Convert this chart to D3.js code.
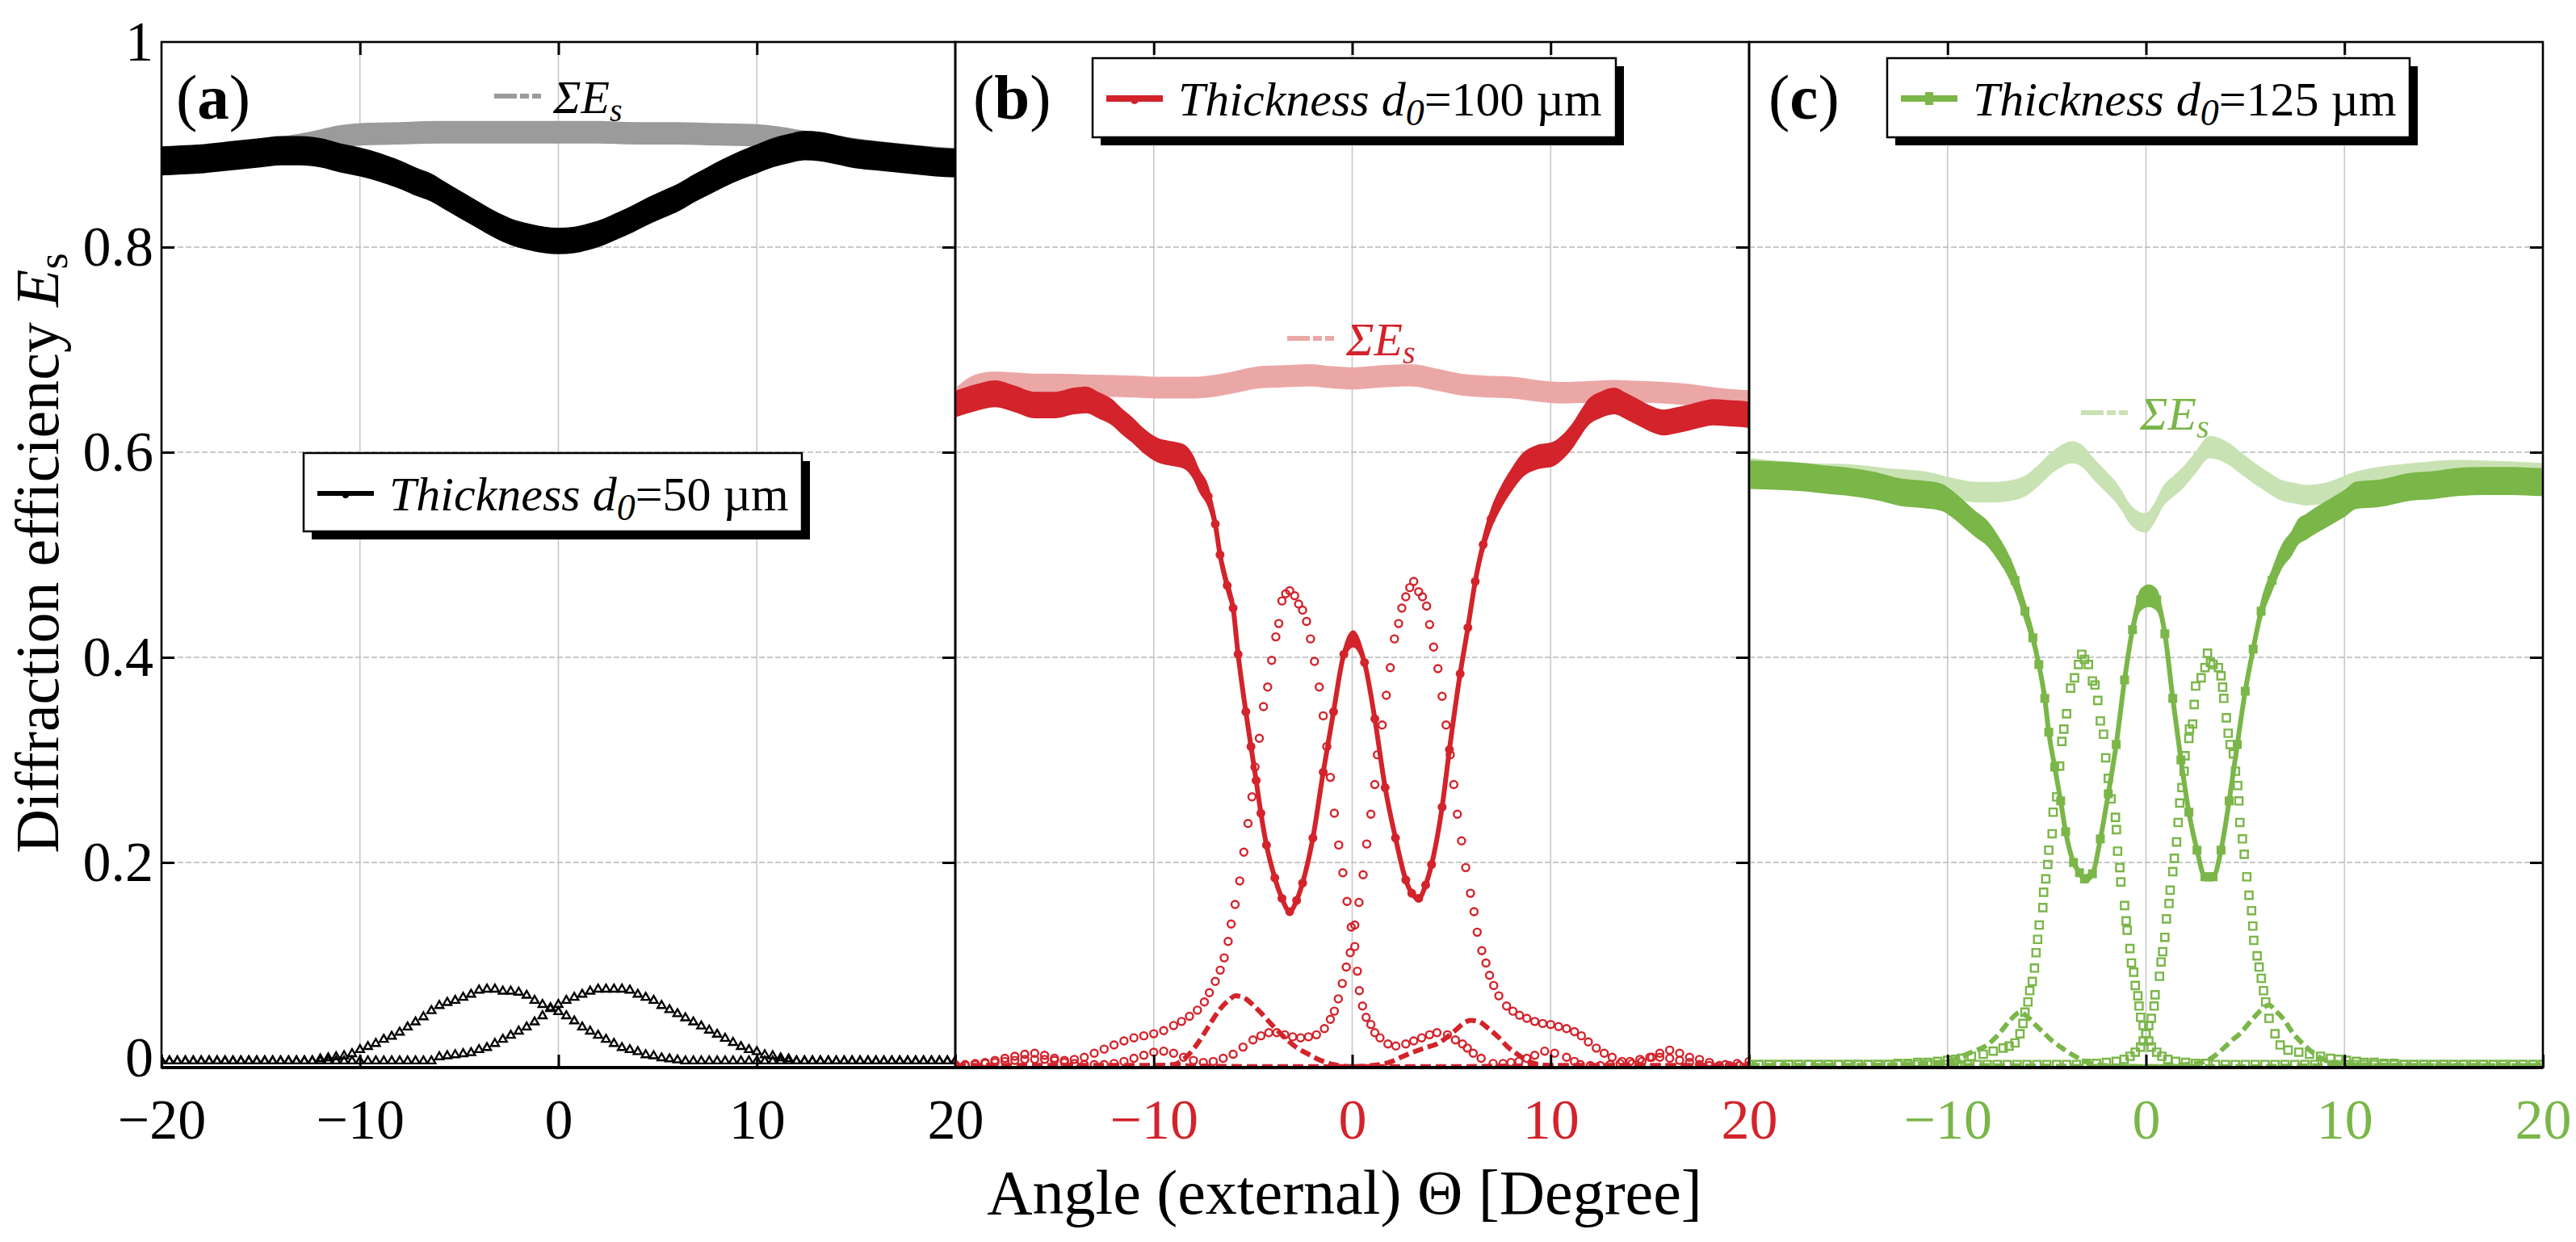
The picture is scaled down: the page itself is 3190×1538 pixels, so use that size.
<!DOCTYPE html>
<html><head><meta charset="utf-8">
<script src="https://cdn.jsdelivr.net/npm/d3@7"></script>
<style>
html,body{margin:0;padding:0;background:#fff;}
svg{display:block;font-family:"Liberation Serif","DejaVu Serif",serif;}
</style>
</head><body>
<svg id="chart" width="3190" height="1538"></svg>
<script>
// ---------------- DATA (angle in degrees, diffraction efficiency) ----------------
const yTickVals = [0, 0.2, 0.4, 0.6, 0.8, 1];
const yTickLabels = ['0', '0.2', '0.4', '0.6', '0.8', '1'];
const xTicksA = [-20, -10, 0, 10, 20];
const xTicksB = [-10, 0, 10, 20];
const xTicksC = [-10, 0, 10, 20];
const legendLabels = ['50', '100', '125'];

// Panel (a) d0 = 50 um
const aMain = [[-20,0.884],[-19,0.885],[-18,0.886],[-17,0.888],[-16,0.890],[-15,0.892],[-14,0.894],[-13,0.894],[-12,0.892],[-11,0.887],[-10,0.883],[-9.4,0.880],[-8.6,0.875],[-7.9,0.870],[-7.2,0.864],[-6.4,0.858],[-5.7,0.850],[-5,0.842],[-4.1,0.832],[-3.2,0.822],[-2.4,0.815],[-1.5,0.810],[-0.7,0.807],[0,0.806],[0.8,0.807],[1.5,0.810],[2.3,0.815],[3,0.821],[3.8,0.828],[4.5,0.835],[5.3,0.842],[6.1,0.849],[6.8,0.857],[7.5,0.864],[8.3,0.872],[9.2,0.880],[10,0.886],[10.8,0.892],[11.6,0.896],[12.4,0.899],[13.2,0.898],[14,0.895],[15,0.891],[16,0.889],[17,0.887],[18,0.885],[19,0.883],[20,0.882]];
const aSum = [[-20,0.887],[-18,0.889],[-16,0.893],[-14,0.897],[-13,0.900],[-12,0.904],[-11,0.908],[-10,0.910],[-8,0.911],[-6,0.912],[-4,0.912],[-2,0.912],[0,0.912],[2,0.912],[4,0.911],[6,0.911],[8,0.910],[10,0.909],[11,0.907],[12,0.904],[13,0.901],[14,0.898],[16,0.893],[18,0.889],[20,0.886]];
const triAngles = [-20,-19.6,-19.2,-18.8,-18.4,-18,-17.6,-17.2,-16.8,-16.4,-16,-15.6,-15.2,-14.8,-14.4,-14,-13.6,-13.2,-12.8,-12.4,-12,-11.6,-11.2,-10.8,-10.4,-10,-9.6,-9.2,-8.8,-8.4,-8,-7.6,-7.2,-6.8,-6.4,-6,-5.6,-5.2,-4.8,-4.4,-4,-3.6,-3.2,-2.8,-2.4,-2,-1.6,-1.2,-0.8,-0.4,0,0.4,0.8,1.2,1.6,2,2.4,2.8,3.2,3.6,4,4.4,4.8,5.2,5.6,6,6.4,6.8,7.2,7.6,8,8.4,8.8,9.2,9.6,10,10.4,10.8,11.2,11.6,12,12.4,12.8,13.2,13.6,14,14.4,14.8,15.2,15.6,16,16.4,16.8,17.2,17.6,18,18.4,18.8,19.2,19.6,20];
const aTri1 = [0.004,0.004,0.004,0.004,0.004,0.004,0.004,0.004,0.004,0.004,0.004,0.004,0.004,0.004,0.004,0.004,0.004,0.004,0.004,0.004,
  0.006,0.007,0.008,0.009,0.011,0.015,0.018,0.021,0.025,0.028,0.032,0.037,0.042,0.047,0.053,0.058,0.061,0.063,0.066,0.069,0.073,0.074,0.074,0.072,0.072,0.071,0.068,0.063,0.059,0.056,0.052,0.048,0.043,0.037,0.033,0.029,0.025,0.021,0.017,0.015,0.013,0.010,0.009,0.007,0.006,0.005,
  0.004,0.004,0.004,0.004,0.004,0.004,0.004,0.004,0.004,0.004,0.004,0.004,0.004,0.004,0.004,0.004,0.004,0.004,0.004,0.004,0.004,0.004,0.004,0.004,0.004,0.004,0.004,0.004,0.004,0.004,0.004,0.004,0.004,0.004,0.004];
const aTri2 = [0.004,0.004,0.004,0.004,0.004,0.004,0.004,0.004,0.004,0.004,0.004,0.004,0.004,0.004,0.004,0.004,0.004,0.004,0.004,0.004,0.004,0.004,0.004,0.004,0.004,0.004,0.004,0.004,0.004,0.004,0.004,0.004,0.004,0.004,0.004,
  0.008,0.009,0.010,0.011,0.012,0.015,0.017,0.021,0.025,0.029,0.033,0.037,0.042,0.048,0.055,0.059,0.063,0.066,0.069,0.072,0.074,0.074,0.074,0.074,0.073,0.069,0.066,0.063,0.058,0.054,0.050,0.046,0.042,0.038,0.034,0.030,0.026,0.022,0.018,0.015,0.013,0.010,0.009,0.007,0.006,
  0.004,0.004,0.004,0.004,0.004,0.004,0.004,0.004,0.004,0.004,0.004,0.004,0.004,0.004,0.004,0.004,0.004,0.004,0.004,0.004,0.004];

// Panel (b) d0 = 100 um
const bMain = [[-20,0.647],[-19,0.653],[-18,0.657],[-17,0.652],[-16,0.646],[-15,0.646],[-14,0.650],[-13.4,0.651],[-12.8,0.646],[-12.1,0.639],[-11.6,0.630],[-11.1,0.622],[-10.5,0.611],[-9.8,0.602],[-9.2,0.599],[-8.5,0.596],[-8,0.585],[-7.7,0.572],[-7.26,0.557],[-6.9,0.530],[-6.66,0.500],[-6.3,0.470],[-6.0,0.448],[-5.75,0.403],[-5.36,0.347],[-5.1,0.313],[-4.84,0.280],[-4.6,0.248],[-4.32,0.217],[-3.9,0.185],[-3.54,0.165],[-3.15,0.152],[-2.8,0.163],[-2.5,0.180],[-1.98,0.224],[-1.46,0.288],[-0.94,0.347],[-0.42,0.403],[0.05,0.418],[0.62,0.395],[1.14,0.340],[1.66,0.273],[2.18,0.224],[2.7,0.183],[3.0,0.170],[3.35,0.165],[3.7,0.178],[4.0,0.198],[4.53,0.254],[4.9,0.310],[5.44,0.384],[5.83,0.429],[6.2,0.474],[6.6,0.510],[7.0,0.535],[7.5,0.556],[8.0,0.572],[8.57,0.587],[9.3,0.595],[10.1,0.598],[10.6,0.605],[11.1,0.616],[11.5,0.628],[11.9,0.639],[12.5,0.646],[13.2,0.650],[13.8,0.645],[14.4,0.639],[15.0,0.633],[15.7,0.629],[16.3,0.631],[17,0.634],[17.6,0.637],[18.2,0.639],[19,0.638],[19.8,0.637],[20,0.636]];
const bSum = [[-20,0.652],[-19,0.665],[-18,0.668],[-17,0.667],[-16,0.666],[-14.9,0.666],[-13,0.665],[-11,0.664],[-9.8,0.663],[-8,0.663],[-7.26,0.664],[-6,0.668],[-4.7,0.673],[-3.5,0.674],[-2.15,0.675],[-1,0.673],[0,0.672],[1.5,0.674],[2.95,0.675],[4.2,0.671],[5.5,0.666],[6.8,0.664],[8.07,0.663],[9.3,0.660],[10.6,0.658],[12,0.659],[13.2,0.660],[14.5,0.659],[15.7,0.658],[17,0.656],[18.2,0.653],[19.2,0.651],[20,0.650]];
const bOrd1 = [[-20,0.003],[-19.5,0.003],[-19,0.004],[-18.5,0.005],[-18,0.007],[-17.5,0.009],[-17,0.011],[-16.5,0.013],[-16,0.014],[-15.5,0.012],[-15,0.009],[-14.5,0.007],[-14,0.008],[-13.5,0.010],[-13,0.014],[-12.5,0.018],[-12,0.022],[-11.5,0.026],[-11,0.029],[-10.5,0.031],[-10,0.033],[-9.5,0.036],[-9,0.041],[-8.6,0.045],[-8.2,0.050],[-7.8,0.056],[-7.45,0.064],[-7.2,0.073],[-6.9,0.084],[-6.65,0.095],[-6.45,0.107],[-6.25,0.123],[-6.1,0.140],[-5.9,0.159],[-5.67,0.182],[-5.46,0.210],[-5.25,0.238],[-5.05,0.264],[-4.9,0.293],[-4.68,0.321],[-4.47,0.352],[-4.26,0.371],[-4.06,0.397],[-3.85,0.420],[-3.7,0.433],[-3.54,0.455],[-3.35,0.462],[-3.15,0.465],[-2.9,0.460],[-2.7,0.452],[-2.5,0.446],[-2.3,0.435],[-2.1,0.418],[-1.9,0.396],[-1.66,0.371],[-1.46,0.343],[-1.28,0.313],[-1.1,0.283],[-0.9,0.248],[-0.68,0.217],[-0.47,0.190],[-0.26,0.162],[-0.05,0.137],[0.13,0.118],[0.26,0.094],[0.36,0.075],[0.52,0.060],[0.7,0.049],[0.94,0.042],[1.14,0.034],[1.4,0.029],[1.8,0.023],[2.2,0.021],[2.7,0.023],[3.1,0.026],[3.5,0.029],[3.9,0.032],[4.27,0.034],[4.8,0.032],[5.2,0.027],[5.56,0.023],[5.8,0.019],[6.1,0.014],[6.5,0.009],[7.1,0.004],[7.6,0.004],[8.0,0.005],[8.4,0.006],[8.8,0.009],[9.2,0.012],[9.7,0.016],[10.2,0.014],[10.8,0.010],[11.2,0.006],[11.5,0.003],[12,0.002],[12.5,0.002],[13,0.003],[13.5,0.004],[14,0.006],[14.5,0.008],[15,0.010],[15.5,0.010],[16,0.009],[16.5,0.007],[17,0.005],[17.5,0.003],[18,0.002],[18.5,0.002],[19,0.002],[19.5,0.002],[20,0.002]];
const bOrd2 = [[-20,0.002],[-19.5,0.002],[-19,0.003],[-18.5,0.004],[-18,0.005],[-17.5,0.006],[-17,0.007],[-16.5,0.008],[-16,0.008],[-15.5,0.008],[-15,0.007],[-14.5,0.005],[-14,0.004],[-13.5,0.003],[-13,0.003],[-12.5,0.003],[-12,0.004],[-11.5,0.006],[-11,0.009],[-10.5,0.012],[-10,0.015],[-9.5,0.016],[-9,0.014],[-8.5,0.010],[-8,0.007],[-7.5,0.005],[-7,0.006],[-6.5,0.009],[-6,0.013],[-5.5,0.020],[-5,0.027],[-4.6,0.031],[-4.2,0.034],[-3.8,0.034],[-3.4,0.032],[-3.0,0.030],[-2.6,0.029],[-2.2,0.030],[-1.8,0.032],[-1.4,0.038],[-1.1,0.047],[-0.9,0.055],[-0.7,0.067],[-0.5,0.082],[-0.3,0.098],[-0.1,0.112],[0.13,0.139],[0.34,0.161],[0.55,0.188],[0.73,0.218],[0.94,0.247],[1.14,0.276],[1.27,0.305],[1.51,0.334],[1.72,0.363],[1.92,0.390],[2.13,0.418],[2.34,0.433],[2.5,0.448],[2.7,0.459],[2.9,0.468],[3.1,0.474],[3.35,0.464],[3.54,0.459],[3.75,0.450],[3.9,0.432],[4.1,0.410],[4.32,0.389],[4.53,0.362],[4.73,0.334],[4.94,0.305],[5.12,0.276],[5.3,0.247],[5.51,0.221],[5.72,0.195],[5.96,0.170],[6.14,0.152],[6.3,0.132],[6.53,0.114],[6.74,0.102],[6.92,0.090],[7.13,0.080],[7.39,0.070],[7.78,0.060],[8.1,0.055],[8.43,0.051],[8.8,0.048],[9.2,0.045],[9.6,0.043],[10.0,0.042],[10.4,0.040],[10.8,0.038],[11.2,0.035],[11.55,0.031],[11.9,0.025],[12.3,0.019],[12.7,0.014],[13.1,0.010],[13.6,0.006],[14.1,0.004],[14.6,0.006],[15.1,0.010],[15.5,0.014],[16.0,0.017],[16.5,0.014],[17.0,0.010],[17.5,0.008],[18.0,0.005],[18.8,0.003],[19.4,0.004],[20,0.006]];
const bDash1 = [[-20,0.002],[-16,0.002],[-12,0.002],[-10,0.002],[-9,0.003],[-8.5,0.008],[-7.96,0.019],[-7.5,0.032],[-7.18,0.042],[-6.66,0.057],[-6.2,0.066],[-5.88,0.070],[-5.6,0.069],[-5.36,0.067],[-5.0,0.061],[-4.58,0.053],[-4.06,0.042],[-3.6,0.033],[-3.28,0.027],[-2.9,0.021],[-2.5,0.016],[-2.1,0.012],[-1.72,0.008],[-1.3,0.005],[-0.94,0.003],[0,0.001],[5,0.001],[10,0.002],[15,0.002],[20,0.002]];
const bDash2 = [[-20,0.002],[-10,0.002],[-5,0.001],[0,0.001],[1.4,0.003],[2.0,0.006],[2.45,0.010],[3.2,0.016],[3.8,0.020],[4.27,0.023],[4.8,0.030],[5.3,0.038],[5.6,0.043],[5.96,0.046],[6.35,0.045],[6.87,0.038],[7.4,0.029],[7.9,0.019],[8.4,0.012],[8.8,0.007],[9.2,0.004],[10,0.002],[15,0.002],[20,0.002]];

// Panel (c) d0 = 125 um
const cMain = [[-20,0.578],[-18.5,0.577],[-17.45,0.576],[-16,0.573],[-14.9,0.571],[-13.6,0.567],[-12.35,0.561],[-11.3,0.559],[-10.3,0.556],[-9.8,0.550],[-9.3,0.542],[-8.6,0.530],[-8.0,0.521],[-7.4,0.505],[-7.0,0.492],[-6.6,0.475],[-6.1,0.445],[-5.7,0.419],[-5.4,0.393],[-5.1,0.360],[-4.9,0.327],[-4.6,0.293],[-4.3,0.260],[-4.05,0.230],[-3.65,0.200],[-3.35,0.190],[-3.1,0.184],[-2.7,0.189],[-2.3,0.223],[-1.9,0.267],[-1.5,0.315],[-1.08,0.378],[-0.68,0.427],[-0.27,0.456],[0.14,0.460],[0.54,0.456],[0.95,0.423],[1.35,0.360],[1.76,0.300],[2.16,0.249],[2.57,0.212],[2.97,0.186],[3.38,0.186],[3.78,0.212],[4.19,0.260],[4.6,0.315],[5.0,0.367],[5.4,0.408],[5.8,0.445],[6.35,0.475],[6.9,0.500],[7.3,0.510],[7.7,0.523],[8.05,0.527],[8.6,0.534],[9.3,0.542],[10.0,0.550],[10.6,0.558],[11.8,0.560],[13.2,0.566],[14.5,0.568],[15.7,0.571],[17,0.572],[18.5,0.572],[19.8,0.571],[20,0.571]];
const cSum = [[-20,0.584],[-18.5,0.581],[-17,0.579],[-15,0.578],[-13,0.574],[-11.1,0.571],[-9.8,0.565],[-8.5,0.561],[-7.6,0.561],[-6.7,0.563],[-6.0,0.568],[-5.5,0.576],[-4.6,0.592],[-3.7,0.600],[-3.2,0.596],[-2.65,0.584],[-2.1,0.573],[-1.6,0.563],[-1.2,0.552],[-0.9,0.542],[-0.4,0.533],[0,0.531],[0.4,0.540],[0.9,0.558],[1.4,0.567],[1.9,0.576],[2.5,0.590],[3.2,0.605],[3.7,0.603],[4.2,0.598],[4.8,0.589],[5.5,0.579],[6.2,0.570],[6.8,0.563],[7.5,0.560],[8.05,0.558],[9,0.560],[10.6,0.571],[12,0.576],[14,0.580],[15.7,0.582],[17.5,0.581],[19,0.580],[20,0.579]];
const cOrd1 = [[-20,0.003],[-19.5,0.003],[-19,0.003],[-18.5,0.003],[-18,0.003],[-17.5,0.003],[-17,0.003],[-16.5,0.003],[-16,0.003],[-15.5,0.003],[-15,0.003],[-14.5,0.003],[-14,0.003],[-13.5,0.003],[-13,0.003],[-12.5,0.004],[-12,0.004],[-11.5,0.005],[-11,0.005],[-10.5,0.006],[-10,0.007],[-9.6,0.008],[-9.3,0.009],[-8.8,0.011],[-8.2,0.013],[-7.7,0.016],[-7.2,0.019],[-6.9,0.021],[-6.6,0.024],[-6.35,0.033],[-6.2,0.043],[-6.1,0.054],[-5.95,0.064],[-5.86,0.075],[-5.73,0.084],[-5.62,0.097],[-5.54,0.112],[-5.46,0.125],[-5.38,0.139],[-5.2,0.156],[-5.16,0.171],[-5.05,0.184],[-4.95,0.198],[-4.9,0.212],[-4.73,0.228],[-4.68,0.249],[-4.5,0.264],[-4.35,0.294],[-4.24,0.318],[-4.14,0.330],[-4.0,0.345],[-3.8,0.370],[-3.6,0.380],[-3.4,0.393],[-3.24,0.403],[-3.1,0.398],[-2.9,0.393],[-2.7,0.377],[-2.57,0.373],[-2.43,0.358],[-2.3,0.338],[-2.14,0.325],[-2.03,0.302],[-1.9,0.282],[-1.76,0.262],[-1.54,0.244],[-1.49,0.232],[-1.43,0.211],[-1.32,0.195],[-1.27,0.181],[-1.08,0.158],[-1.0,0.143],[-0.95,0.134],[-0.81,0.116],[-0.73,0.102],[-0.62,0.093],[-0.54,0.080],[-0.41,0.070],[-0.35,0.060],[-0.27,0.049],[-0.14,0.041],[0,0.033],[0.14,0.026],[0.27,0.020],[0.54,0.015],[0.8,0.011],[1.1,0.008],[1.5,0.006],[2,0.005],[2.5,0.004],[3,0.004],[3.5,0.003],[4,0.003],[4.5,0.003],[5,0.003],[5.5,0.003],[6,0.003],[6.5,0.003],[7,0.003],[7.5,0.003],[8,0.003],[8.5,0.003],[9,0.003],[9.5,0.003],[10,0.003],[10.5,0.003],[11,0.003],[11.5,0.003],[12,0.003],[12.5,0.003],[13,0.003],[13.5,0.003],[14,0.003],[14.5,0.003],[15,0.003],[15.5,0.003],[16,0.003],[16.5,0.003],[17,0.003],[17.5,0.003],[18,0.003],[18.5,0.003],[19,0.003],[19.5,0.003],[20,0.003]];
const cOrd2 = [[-20,0.003],[-19.5,0.003],[-19,0.003],[-18.5,0.003],[-18,0.003],[-17.5,0.003],[-17,0.003],[-16.5,0.003],[-16,0.003],[-15.5,0.003],[-15,0.003],[-14.5,0.003],[-14,0.003],[-13.5,0.003],[-13,0.003],[-12.5,0.003],[-12,0.003],[-11.5,0.003],[-11,0.003],[-10.5,0.003],[-10,0.003],[-9.5,0.003],[-9,0.003],[-8.5,0.003],[-8,0.003],[-7.5,0.003],[-7,0.003],[-6.5,0.003],[-6,0.003],[-5.5,0.003],[-5,0.003],[-4.5,0.003],[-4,0.003],[-3.5,0.003],[-3,0.004],[-2.5,0.004],[-2,0.005],[-1.5,0.006],[-1.1,0.008],[-0.8,0.011],[-0.54,0.015],[-0.27,0.020],[-0.14,0.026],[0,0.033],[0.14,0.041],[0.27,0.048],[0.41,0.060],[0.46,0.071],[0.68,0.089],[0.76,0.103],[0.84,0.113],[0.95,0.127],[1.03,0.145],[1.16,0.160],[1.22,0.173],[1.35,0.191],[1.43,0.204],[1.54,0.220],[1.62,0.239],[1.7,0.258],[1.81,0.273],[1.92,0.289],[1.97,0.304],[2.16,0.321],[2.19,0.330],[2.35,0.335],[2.43,0.354],[2.5,0.372],[2.78,0.380],[2.97,0.390],[3.1,0.404],[3.25,0.395],[3.38,0.393],[3.65,0.390],[3.78,0.382],[3.86,0.371],[3.92,0.360],[4.05,0.341],[4.14,0.326],[4.24,0.315],[4.4,0.306],[4.51,0.289],[4.62,0.275],[4.68,0.260],[4.73,0.239],[4.86,0.223],[4.95,0.208],[5.08,0.186],[5.19,0.168],[5.32,0.153],[5.38,0.138],[5.43,0.124],[5.6,0.109],[5.7,0.098],[5.81,0.087],[5.92,0.075],[6.03,0.064],[6.2,0.048],[6.5,0.033],[6.76,0.022],[7.16,0.017],[7.7,0.015],[8.24,0.013],[8.8,0.011],[9.3,0.009],[9.7,0.008],[10.1,0.007],[10.6,0.006],[11,0.005],[11.5,0.005],[12,0.004],[12.5,0.004],[13,0.003],[13.5,0.003],[14,0.003],[14.5,0.003],[15,0.003],[15.5,0.003],[16,0.003],[16.5,0.003],[17,0.003],[17.5,0.003],[18,0.003],[18.5,0.003],[19,0.003],[19.5,0.003],[20,0.003]];
const cDash1 = [[-20,0.002],[-15,0.002],[-12,0.003],[-10,0.006],[-9.4,0.010],[-8.8,0.015],[-8.0,0.022],[-7.4,0.033],[-6.9,0.045],[-6.6,0.051],[-6.35,0.054],[-6.0,0.050],[-5.54,0.041],[-5.1,0.033],[-4.73,0.026],[-4.3,0.020],[-3.92,0.015],[-3.38,0.009],[-2.84,0.004],[-2,0.002],[0,0.001],[5,0.001],[10,0.002],[20,0.002]];
const cDash2 = [[-20,0.002],[-10,0.002],[0,0.001],[2.5,0.004],[3.1,0.007],[3.5,0.012],[3.92,0.019],[4.3,0.026],[4.73,0.033],[5.27,0.045],[5.8,0.056],[6.2,0.061],[6.5,0.056],[6.9,0.048],[7.43,0.033],[7.97,0.022],[8.5,0.013],[9.05,0.007],[9.6,0.004],[10,0.003],[15,0.002],[20,0.002]];

// ---------------- LAYOUT ----------------
const plotTop = 52, plotBottom = 1322, panelW = 983;
const svg = d3.select('#chart');
const y = d3.scaleLinear().domain([0, 1]).range([plotBottom, plotTop]);
const FONT = '"Liberation Serif","DejaVu Serif",serif';

const panels = [
  {key:'a', left:200, color:'#000000', sumColor:'#9b9b9b', sumText:'#000000', main:aMain, sum:aSum, mainK:0.016, sumK:0.012,
   ord1:triAngles.map((t,i)=>[t,aTri1[i]]), ord2:triAngles.map((t,i)=>[t,aTri2[i]]), sym:d3.symbolTriangle, symSize:44,
   dash1:null, dash2:null, mainMarker:'dot', xTicks:xTicksA, tickColor:'#000',
   label:'a', labelX:218, legend:{x:376,y:561,w:617,h:97}, legendText:legendLabels[0],
   sumLeg:{x:612,y:119}},
  {key:'b', left:1183, color:'#d3232b', sumColor:'#eba7a6', sumText:'#d3232b', main:bMain, sum:bSum, mainK:0.02, sumK:0.016,
   ord1:bOrd1, ord2:bOrd2, sym:d3.symbolCircle, symSize:64,
   dash1:bDash1, dash2:bDash2, mainMarker:'circle', xTicks:xTicksB, tickColor:'#d3232b',
   label:'b', labelX:1205, legend:{x:1353,y:72,w:648,h:98}, legendText:legendLabels[1],
   sumLeg:{x:1594,y:419}},
  {key:'c', left:2166, color:'#7ab648', sumColor:'#c9e2b3', sumText:'#7ab648', main:cMain, sum:cSum, mainK:0.024, sumK:0.018,
   ord1:cOrd1, ord2:cOrd2, sym:d3.symbolSquare, symSize:85,
   dash1:cDash1, dash2:cDash2, mainMarker:'square', xTicks:xTicksC, tickColor:'#7ab648',
   label:'c', labelX:2190, legend:{x:2337,y:72,w:647,h:98}, legendText:legendLabels[2],
   sumLeg:{x:2577,y:511}}
];

function drawPanel(p) {
  const x = d3.scaleLinear().domain([-20, 20]).range([p.left, p.left + panelW]);
  const g = svg.append('g').attr('class', 'panel-' + p.key);
  const clipId = 'clip-' + p.key;
  svg.append('clipPath').attr('id', clipId).append('rect')
    .attr('x', p.left).attr('y', plotTop).attr('width', panelW).attr('height', plotBottom - plotTop);

  // grid
  g.append('g').selectAll('line').data([-10, 0, 10]).join('line')
    .attr('x1', d => x(d)).attr('x2', d => x(d)).attr('y1', plotTop).attr('y2', plotBottom)
    .attr('stroke', '#c8c8c8').attr('stroke-width', 1.6);
  g.append('g').selectAll('line').data([0.2, 0.4, 0.6, 0.8]).join('line')
    .attr('x1', p.left).attr('x2', p.left + panelW).attr('y1', d => y(d)).attr('y2', d => y(d))
    .attr('stroke', '#b8b8b8').attr('stroke-width', 1.6).attr('stroke-dasharray', '7,3');

  const plot = g.append('g').attr('clip-path', `url(#${clipId})`);
  const line = d3.line().x(d => x(d[0])).y(d => y(d[1])).curve(d3.curveMonotoneX);
  const band = k => d3.area().x(d => x(d[0])).y0(d => y(d[1] * (1 - k))).y1(d => y(d[1] * (1 + k))).curve(d3.curveMonotoneX);

  // sum line (noisy band)
  plot.append('path').datum(p.sum).attr('d', band(p.sumK)).attr('fill', p.sumColor);
  plot.append('path').datum(p.sum).attr('d', line).attr('fill', 'none').attr('stroke', p.sumColor)
    .attr('stroke-width', 5).attr('stroke-dasharray', p.key === 'c' ? '18,6' : null);

  // main line
  plot.append('path').datum(p.main).attr('d', band(p.mainK)).attr('fill', p.color);
  plot.append('path').datum(p.main).attr('d', line).attr('fill', 'none').attr('stroke', p.color).attr('stroke-width', 6);
  if (p.mainMarker === 'circle') {
    plot.append('g').selectAll('circle').data(p.main).join('circle')
      .attr('cx', d => x(d[0])).attr('cy', d => y(d[1])).attr('r', 5.5).attr('fill', p.color);
  } else if (p.mainMarker === 'square') {
    plot.append('g').selectAll('rect').data(p.main).join('rect')
      .attr('x', d => x(d[0]) - 5.5).attr('y', d => y(d[1]) - 5.5).attr('width', 11).attr('height', 11).attr('fill', p.color);
  } else {
    plot.append('g').selectAll('circle').data(p.main).join('circle')
      .attr('cx', d => x(d[0])).attr('cy', d => y(d[1])).attr('r', 2.5).attr('fill', p.color);
  }

  // dashed second orders
  [p.dash1, p.dash2].forEach(ds => {
    if (!ds) return;
    plot.append('path').datum(ds).attr('d', line).attr('fill', 'none').attr('stroke', p.color)
      .attr('stroke-width', 6).attr('stroke-dasharray', '13,6');
  });

  // hollow markers (first orders)
  const sym = d3.symbol().type(p.sym).size(p.symSize);
  [p.ord1, p.ord2].forEach(ds => {
    plot.append('g').selectAll('path').data(ds).join('path')
      .attr('transform', d => `translate(${x(d[0])},${y(d[1]) - (p.key === 'a' ? 3 : 0)})`)
      .attr('d', sym).attr('fill', 'none').attr('stroke', p.color).attr('stroke-width', 2.4);
  });

  // frame
  g.append('rect').attr('x', p.left).attr('y', plotTop).attr('width', panelW).attr('height', plotBottom - plotTop)
    .attr('fill', 'none').attr('stroke', '#000').attr('stroke-width', 2.6);
  g.append('line').attr('x1', p.left).attr('x2', p.left + panelW).attr('y1', plotBottom).attr('y2', plotBottom)
    .attr('stroke', '#000').attr('stroke-width', 4);

  // axes / ticks
  const bottom = g.append('g').attr('transform', `translate(0,${plotBottom})`)
    .call(d3.axisBottom(x).tickValues(p.xTicks).tickSize(-16).tickPadding(38)
      .tickFormat(d => d < 0 ? '\u2212' + Math.abs(d) : String(d)));
  bottom.select('.domain').remove();
  bottom.selectAll('line').attr('stroke', '#000').attr('stroke-width', 3);
  bottom.selectAll('text').attr('font-size', 70).attr('font-family', FONT).attr('fill', p.tickColor);

  const top = g.append('g').attr('transform', `translate(0,${plotTop})`)
    .call(d3.axisTop(x).tickValues([-10, 0, 10]).tickSize(-16).tickFormat(''));
  top.select('.domain').remove();
  top.selectAll('line').attr('stroke', '#000').attr('stroke-width', 3);

  const right = g.append('g').attr('transform', `translate(${p.left + panelW},0)`)
    .call(d3.axisRight(y).tickValues([0.2, 0.4, 0.6, 0.8]).tickSize(-16).tickFormat(''));
  right.select('.domain').remove();
  right.selectAll('line').attr('stroke', '#000').attr('stroke-width', 3);

  if (p.key === 'a') {
    const left = g.append('g').attr('transform', `translate(${p.left},0)`)
      .call(d3.axisLeft(y).tickValues(yTickVals).tickSize(-16).tickPadding(10)
        .tickFormat((d, i) => yTickLabels[i]));
    left.select('.domain').remove();
    left.selectAll('line').attr('stroke', '#000').attr('stroke-width', 3)
      .attr('display', d => (d === 0 || d === 1) ? 'none' : null);
    left.selectAll('text').attr('font-size', 70).attr('font-family', FONT).attr('fill', '#000')
      .attr('y', d => d === 0 ? -12 : 0);
  }

  // panel label
  const lab = g.append('text').attr('x', p.labelX).attr('y', 147).attr('font-size', 79).attr('fill', '#000');
  lab.append('tspan').text('(');
  lab.append('tspan').attr('font-weight', 'bold').text(p.label);
  lab.append('tspan').text(')');

  // thickness legend
  const L = p.legend;
  g.append('rect').attr('x', L.x + 10).attr('y', L.y + 10).attr('width', L.w).attr('height', L.h).attr('fill', '#000');
  g.append('rect').attr('x', L.x).attr('y', L.y).attr('width', L.w).attr('height', L.h)
    .attr('fill', '#fff').attr('stroke', '#000').attr('stroke-width', 2.5);
  const ly = L.y + 50, lx0 = L.x + 17, lx1 = L.x + 87;
  g.append('line').attr('x1', lx0).attr('x2', lx1).attr('y1', ly).attr('y2', ly)
    .attr('stroke', p.color).attr('stroke-width', p.key === 'a' ? 6 : 8);
  if (p.mainMarker === 'square') {
    g.append('rect').attr('x', (lx0 + lx1) / 2 - 5).attr('y', ly - 8).attr('width', 10).attr('height', 16).attr('fill', p.color);
  } else {
    g.append('circle').attr('cx', (lx0 + lx1) / 2).attr('cy', ly + 2).attr('r', p.key === 'a' ? 4 : 5).attr('fill', p.color);
  }
  const lt = g.append('text').attr('x', L.x + 106).attr('y', L.y + 71).attr('font-size', 60).attr('fill', '#000');
  lt.append('tspan').attr('font-style', 'italic').text('Thickness d');
  lt.append('tspan').attr('font-style', 'italic').attr('font-size', 46).attr('dy', 12).text('0');
  lt.append('tspan').attr('dy', -12).text('=' + p.legendText + ' \u00b5m');

  // sum legend
  const S = p.sumLeg;
  g.append('line').attr('x1', S.x).attr('x2', S.x + 58).attr('y1', S.y).attr('y2', S.y)
    .attr('stroke', p.sumColor).attr('stroke-width', 6).attr('stroke-dasharray', '28,4,11,4,11');
  const st = g.append('text').attr('x', S.x + 73).attr('y', S.y + 21).attr('font-size', 58).attr('fill', p.sumText);
  st.append('tspan').attr('font-style', 'italic').text('\u03a3E');
  st.append('tspan').attr('font-style', 'italic').attr('font-size', 40).attr('dy', 10).text('s');
}

panels.forEach(drawPanel);

// y-axis title: built from separate text pieces laid out along the rotated baseline
const ytG = svg.append('g').attr('transform', 'translate(72,685) rotate(-90)');
const yt1 = ytG.append('text').attr('font-size', 76).attr('fill', '#000').text('Diffraction efficiency');
const yt2 = ytG.append('text').attr('font-size', 76).attr('font-style', 'italic').attr('fill', '#000').text('E');
const yt3 = ytG.append('text').attr('font-size', 52).attr('fill', '#000').text('s');
const w1 = yt1.node().getComputedTextLength(), gap = 19;
const w2 = yt2.node().getComputedTextLength(), w3 = yt3.node().getComputedTextLength();
const x0 = -(w1 + gap + w2 + w3) / 2;
yt1.attr('x', x0).attr('y', 0);
yt2.attr('x', x0 + w1 + gap).attr('y', 0);
yt3.attr('x', x0 + w1 + gap + w2).attr('y', 11);

svg.append('text').attr('x', 1665).attr('y', 1503).attr('text-anchor', 'middle')
  .attr('font-size', 78).attr('fill', '#000').text('Angle (external) \u0398 [Degree]');
</script>
</body></html>
